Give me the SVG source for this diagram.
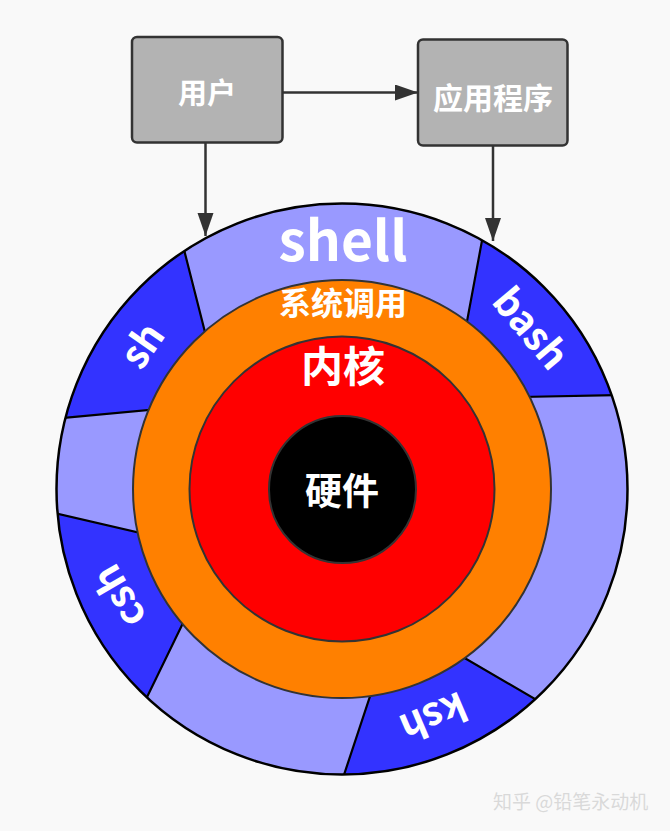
<svg xmlns="http://www.w3.org/2000/svg" width="670" height="831" viewBox="0 0 670 831">
  <defs>
    <style>
      .box { fill: #b3b3b3; stroke: #333333; stroke-width: 2.5; }
      .lbl { fill: #ffffff; font-family: "Noto Sans CJK SC", "Noto Sans", "Liberation Sans", sans-serif; font-weight: bold; text-anchor: middle; }
      .seg { fill: #3333ff; stroke: #000000; stroke-width: 2.2; }
      .ring { stroke: #333333; stroke-width: 2; }
      .conn { fill: none; stroke: #333333; stroke-width: 2.5; }
      .wm { fill: #d9d9d9; font-family: "Noto Sans CJK SC", "Noto Sans", sans-serif; font-size: 19px; }
    </style>
    <clipPath id="outerClip">
      <circle cx="342" cy="489" r="285.5"/>
    </clipPath>
    <marker id="arrow" markerUnits="userSpaceOnUse" markerWidth="24" markerHeight="18" refX="23" refY="8" orient="auto">
      <path d="M0,0 L23,8 L0,16 Z" fill="#333333"/>
    </marker>
  </defs>

  <rect x="0" y="0" width="670" height="831" fill="#f9f9f9"/>

  <g id="shell">
    <circle cx="342" cy="489" r="285.5" fill="#9999ff"/>
    <g clip-path="url(#outerClip)">
      <polygon id="seg-sh" class="seg" points="171.4,200 223,403 20,422 20,200"/>
      <polygon id="seg-bash" class="seg" points="491.4,190 452.7,398.4 680,393.7 680,190"/>
      <polygon id="seg-csh" class="seg" points="20,505 218,551 97,800 20,800"/>
      <polygon id="seg-ksh" class="seg" points="329,820 396,618 600,737 600,820"/>
    </g>
    <circle cx="342" cy="489" r="285.5" fill="none" stroke="#000000" stroke-width="2.5"/>
    <text class="lbl" x="343" y="261" font-size="55">shell</text>
    <text class="lbl" font-size="39" transform="translate(143,346) rotate(-55)" x="0" y="13">sh</text>
    <text class="lbl" font-size="39" transform="translate(530,329) rotate(50)" x="0" y="13">bash</text>
    <text class="lbl" font-size="39" transform="translate(120,596) rotate(-120)" x="0" y="13">csh</text>
    <text class="lbl" font-size="39" transform="translate(433,716) rotate(157)" x="0" y="13">ksh</text>
  </g>

  <g id="syscall">
    <circle class="ring" cx="342" cy="489" r="209" fill="#ff8000"/>
    <text class="lbl" x="343" y="315" font-size="32">系统调用</text>
  </g>

  <g id="kernel">
    <circle class="ring" cx="342" cy="489" r="152.5" fill="#ff0000"/>
    <text class="lbl" x="343" y="382" font-size="42">内核</text>
  </g>

  <g id="hardware">
    <circle class="ring" cx="342.5" cy="489.5" r="73.5" fill="#000000"/>
    <text class="lbl" x="342" y="505" font-size="37">硬件</text>
  </g>

  <g id="user">
    <rect class="box" x="132" y="37" width="150.5" height="105.5" rx="5"/>
    <text class="lbl" x="207" y="104" font-size="29">用户</text>
  </g>

  <g id="app">
    <rect class="box" x="418" y="39.5" width="149.5" height="106" rx="5"/>
    <text class="lbl" x="493" y="109" font-size="30">应用程序</text>
  </g>

  <g id="connectors">
    <line class="conn" x1="283" y1="92.5" x2="418" y2="92.5" marker-end="url(#arrow)"/>
    <line class="conn" x1="205.5" y1="143" x2="205.5" y2="236" marker-end="url(#arrow)"/>
    <line class="conn" x1="493" y1="146" x2="493" y2="241" marker-end="url(#arrow)"/>
  </g>

  <text class="wm" x="493" y="809">知乎 @铅笔永动机</text>
</svg>
